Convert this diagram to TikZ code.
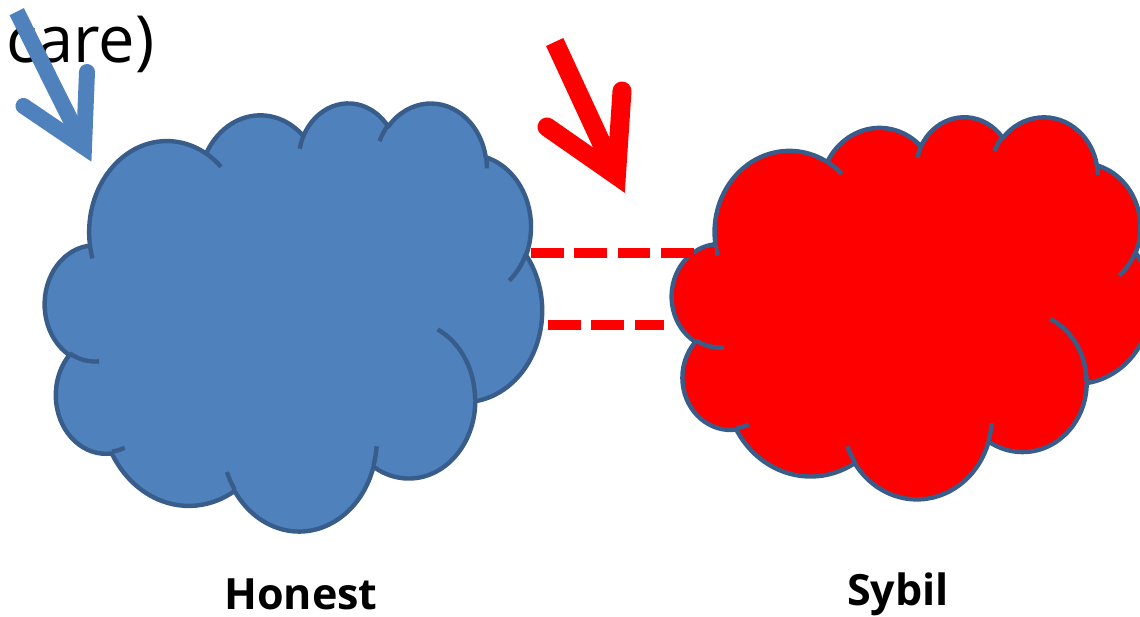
\documentclass[tikz,border=0pt]{standalone}
\usepackage{fontspec}
\setmainfont{Open Sans}
\definecolor{honestblue}{HTML}{4F81BD}
\definecolor{cloudline}{HTML}{385D8A}
\definecolor{sybilred}{HTML}{FF0000}

% Elliptical arc continuing from the current point.
% #1,#2: x/y radius, #3: start ray angle, #4: sweep (degrees, ray angles).
% Ray angles are turned into the parametric angles that TikZ's arc uses.
\newcommand\cldarc[4]{%
  \pgfextra{%
    \pgfmathsetmacro\cldts{atan2((#1)*sin(#3),(#2)*cos(#3))}%
    \pgfmathsetmacro\cldte{atan2((#1)*sin((#3)+(#4)),(#2)*cos((#3)+(#4)))}%
    \pgfmathsetmacro\clddd{\cldte-\cldts}%
    \pgfmathsetmacro\clddd{\clddd+360*((#4)>0)*(\clddd<0)-360*((#4)<0)*(\clddd>0)}%
    \xdef\cldts{\cldts}\xdef\clddd{\clddd}%
  }
  arc[x radius=#1, y radius=#2, start angle=\cldts, delta angle=\clddd]}

% Cloud outline in a 43.2 x 43.2 frame
\newcommand\cloudoutline{(3.900,14.370)
  \cldarc{6.753}{9.190}{-190.4875}{123.7805}
  \cldarc{5.333}{7.267}{-144.1024}{89.9452}
  \cldarc{4.365}{5.945}{-145.8079}{99.7230}
  \cldarc{4.857}{6.595}{-130.9861}{117.2417}
  \cldarc{5.333}{7.273}{-78.7089}{109.0269}
  \cldarc{6.775}{9.220}{-46.2673}{130.2690}
  \cldarc{5.785}{7.867}{0.6250}{114.0333}
  \cldarc{6.752}{9.215}{22.4516}{115.1726}
  \cldarc{7.720}{10.543}{66.2426}{75.7110}
  \cldarc{4.360}{5.918}{-274.9421}{146.7356}
  \cldarc{4.345}{5.945}{-246.8285}{152.5226} -- cycle}

% Inner puff strokes of the cloud
\newcommand\clouddetails{%
  (4.693,26.177) \cldarc{4.345}{5.945}{86.7420}{26.4295}
  (6.928,34.899) \cldarc{4.360}{5.918}{73.6105}{11.4475}
  (16.478,39.090) \cldarc{6.752}{9.215}{137.6242}{14.0811}
  (28.827,34.751) \cldarc{6.752}{9.215}{6.4533}{15.9984}
  (34.129,22.954) \cldarc{5.785}{7.867}{-70.2924}{70.9174}
  (41.798,15.354) \cldarc{5.333}{7.273}{30.3180}{27.7515}
  (38.324,5.426) \cldarc{4.857}{6.595}{-13.7443}{14.8589}
  (29.078,3.952) \cldarc{4.857}{6.595}{-149.1815}{18.1954}
  (22.141,4.720) \cldarc{4.365}{5.945}{-163.4943}{17.6864}
  (14.000,5.192) \cldarc{6.753}{9.190}{-66.7070}{12.3194}
  (4.127,15.789) \cldarc{6.753}{9.190}{157.6544}{11.8582}}

\begin{document}
\begin{tikzpicture}[x=0.02cm, y=-0.02cm,
  cloudedge/.style={draw=cloudline, line width=0.088cm, line join=round},
  attackedge/.style={draw=sybilred, line width=0.2cm,
    dash pattern=on 0.654cm off 0.214cm},
  shaft/.style={line width=#1, line cap=butt},
  arrowhead/.style={line width=#1, line cap=round, line join=miter},
  label/.style={inner sep=0pt, font=\bfseries\fontsize{24.5}{28}\selectfont}]

\useasboundingbox (0,0) rectangle (1140,616);
\clip (0,0) rectangle (1140,616);

% caption fragment
\node[anchor=base west, inner sep=0pt, font=\fontsize{37}{44}\selectfont]
  (care) at (6,62) {care)};

% honest region
\begin{scope}[shift={(45,102)}, xscale=497/43.2, yscale=428/43.2]
  \filldraw[cloudedge, fill=honestblue] \cloudoutline;
  \draw[cloudedge] \clouddetails;
\end{scope}

% sybil region
\begin{scope}[shift={(672,116)}, xscale=479/43.2, yscale=382/43.2]
  \filldraw[cloudedge, fill=sybilred] \cloudoutline;
  \draw[cloudedge] \clouddetails;
\end{scope}

% attack edges
\coordinate (h1) at (531,253);
\coordinate (s1) at (715,253);
\coordinate (h2) at (548,325);
\coordinate (s2) at (664,325);
\draw[attackedge] (h1) -- (s1);
\draw[attackedge] (h2) -- (s2);

% blue pointer
\coordinate (btail) at (16.7,11.7);
\coordinate (btip) at (84,147);
\coordinate (bbarbA) at (87,72);
\coordinate (bbarbB) at (23.5,106);
\draw[honestblue, shaft=0.32cm] (btail) -- (btip);
\draw[honestblue, arrowhead=0.32cm] (bbarbA) -- (btip) -- (bbarbB);

% red pointer
\coordinate (rtail) at (554.7,42);
\coordinate (rtip) at (616.4,175.4);
\coordinate (rbarbA) at (622,91);
\coordinate (rbarbB) at (547,127);
\draw[sybilred, shaft=0.38cm] (rtail) -- (rtip);
\draw[sybilred, arrowhead=0.38cm] (rbarbA) -- (rtip) -- (rbarbB);

% region names
\node[label, anchor=base] (honest) at (301,609) {Honest};
\node[label, anchor=base] (sybil) at (898,605) {Sybil};
\end{tikzpicture}
\end{document}
